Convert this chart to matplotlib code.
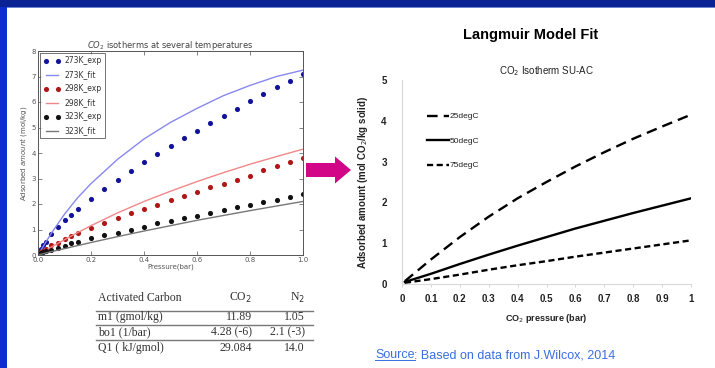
import matplotlib
matplotlib.use("Agg")
import matplotlib.pyplot as plt
from matplotlib.patches import Rectangle, FancyArrow

'''
data read off the picture
'''
# left chart: CO2 isotherms, experiment points
p_exp = [0.005, 0.01, 0.02, 0.03, 0.05, 0.075, 0.1, 0.125, 0.15, 0.2, 0.25, 0.3, 0.35,
         0.4, 0.45, 0.5, 0.55, 0.6, 0.65, 0.7, 0.75, 0.8, 0.85, 0.9, 0.95, 1.0]
q273_exp = [0.12, 0.25, 0.38, 0.5, 0.82, 1.11, 1.37, 1.57, 1.82, 2.2, 2.59, 2.94, 3.3,
            3.63, 3.95, 4.28, 4.57, 4.88, 5.16, 5.45, 5.72, 6.02, 6.3, 6.59, 6.83, 7.1]
q298_exp = [0.05, 0.1, 0.17, 0.24, 0.39, 0.48, 0.61, 0.75, 0.85, 1.07, 1.27, 1.44, 1.63,
            1.8, 1.96, 2.16, 2.32, 2.47, 2.66, 2.78, 2.94, 3.1, 3.33, 3.49, 3.63, 3.79]
q323_exp = [0.03, 0.06, 0.1, 0.14, 0.2, 0.29, 0.37, 0.46, 0.52, 0.65, 0.78, 0.88, 1.0,
            1.11, 1.24, 1.33, 1.46, 1.54, 1.66, 1.76, 1.87, 1.96, 2.06, 2.17, 2.28, 2.39]
# left chart: fitted curves
p_fit = [0.0, 0.05, 0.1, 0.15, 0.2, 0.3, 0.4, 0.5, 0.6, 0.7, 0.8, 0.9, 1.0]
q273_fit = [0.0, 0.85, 1.6, 2.25, 2.8, 3.75, 4.55, 5.2, 5.75, 6.25, 6.65, 7.0, 7.25]
q298_fit = [0.0, 0.31, 0.6, 0.88, 1.15, 1.65, 2.1, 2.5, 2.88, 3.23, 3.56, 3.86, 4.15]
q323_fit = [0.0, 0.13, 0.25, 0.37, 0.49, 0.72, 0.94, 1.15, 1.36, 1.55, 1.74, 1.92, 2.1]

# right chart: Langmuir model fit
p_lm = [0.01, 0.1, 0.2, 0.3, 0.4, 0.5, 0.6, 0.7, 0.8, 0.9, 1.0]
q25 = [0.07, 0.6, 1.15, 1.65, 2.1, 2.5, 2.88, 3.23, 3.56, 3.86, 4.15]
q50 = [0.05, 0.25, 0.49, 0.72, 0.94, 1.15, 1.36, 1.55, 1.74, 1.92, 2.1]
q75 = [0.03, 0.12, 0.23, 0.35, 0.46, 0.56, 0.67, 0.77, 0.87, 0.97, 1.07]

# parameter table
tab_head = ["Activated Carbon", "CO$_2$", "N$_2$"]
tab_rows = [["m1 (gmol/kg)", "11.89", "1.05"],
            ["bo1 (1/bar)", "4.28 (-6)", "2.1 (-3)"],
            ["Q1 ( kJ/gmol)", "29.084", "14.0"]]

W, H = 715, 368
def fx(px):
    return px / W
def fy(py):
    return 1 - py / H

fig = plt.figure(figsize=(7.15, 3.68), dpi=100)
fig.patch.set_facecolor("white")

'''
slide frame
'''
fig.patches.append(Rectangle((0, fy(7)), 1, 7 / H, transform=fig.transFigure,
                             facecolor="#0a2394", edgecolor="none", zorder=0))
fig.patches.append(Rectangle((0, fy(8)), 1, 1 / H, transform=fig.transFigure,
                             facecolor="#6f86d8", edgecolor="none", zorder=0))
fig.patches.append(Rectangle((0, 0), fx(7), fy(7), transform=fig.transFigure,
                             facecolor="#0b2fcf", edgecolor="none", zorder=0))

'''
left chart
'''
gray = "#555555"
ax1 = fig.add_axes([fx(38), fy(255), fx(303) - fx(38), fy(51) - fy(255)])
ax1.plot(p_exp, q273_exp, "o", color="#12129a", ms=3.7, mec="none", label="273K_exp")
ax1.plot(p_fit, q273_fit, "-", color="#8888f0", lw=1.0, label="273K_fit")
ax1.plot(p_exp, q298_exp, "o", color="#b01818", ms=3.7, mec="none", label="298K_exp")
ax1.plot(p_fit, q298_fit, "-", color="#f08888", lw=1.0, label="298K_fit")
ax1.plot(p_exp, q323_exp, "o", color="#111111", ms=3.7, mec="none", label="323K_exp")
ax1.plot(p_fit, q323_fit, "-", color="#777777", lw=1.0, label="323K_fit")
ax1.set_xlim(0, 1)
ax1.set_ylim(0, 8)
ax1.set_xticks([0, 0.2, 0.4, 0.6, 0.8, 1.0])
ax1.set_xticklabels(["0.0", "0.2", "0.4", "0.6", "0.8", "1.0"])
ax1.tick_params(direction="in", length=3, width=0.5, labelsize=5, colors=gray,
                top=True, right=True, pad=1.5)
for s in ax1.spines.values():
    s.set_color(gray)
    s.set_linewidth(0.7)
ax1.set_title("$CO_2$ isotherms at several temperatures", fontsize=6, color="#444444", pad=2)
ax1.set_xlabel("Pressure(bar)", fontsize=5, color=gray, labelpad=0.5)
ax1.set_ylabel("Adsorbed $amount$ (mol/kg)", fontsize=5, color=gray, labelpad=2)
leg1 = ax1.legend(loc="upper left", fontsize=5.5, numpoints=2, handlelength=2.2,
                  labelspacing=0.65, borderpad=0.4, borderaxespad=0.3, fancybox=False,
                  handletextpad=0.6)
leg1.get_frame().set_edgecolor("#333333")
leg1.get_frame().set_linewidth(0.6)
for t in leg1.get_texts():
    t.set_color("#333333")

'''
parameter table
'''
serif = "Liberation Serif"
col_x = [98, 252, 305]
row_y = [298, 317, 332, 348]
rule_y = [311, 325, 340]
fig.text(fx(col_x[0]), fy(row_y[0]), tab_head[0], fontsize=8.5, family=serif,
         color="#333333", va="center", ha="left")
fig.text(fx(col_x[1]), fy(row_y[0]), tab_head[1], fontsize=8.5, family=serif,
         color="#333333", va="center", ha="right")
fig.text(fx(col_x[2]), fy(row_y[0]), tab_head[2], fontsize=8.5, family=serif,
         color="#333333", va="center", ha="right")
for i, row in enumerate(tab_rows):
    fig.text(fx(col_x[0]), fy(row_y[i + 1]), row[0], fontsize=8.5, family=serif,
             color="#333333", va="center", ha="left")
    fig.text(fx(col_x[1]), fy(row_y[i + 1]), row[1], fontsize=8.5, family=serif,
             color="#333333", va="center", ha="right")
    fig.text(fx(col_x[2]), fy(row_y[i + 1]), row[2], fontsize=8.5, family=serif,
             color="#333333", va="center", ha="right")
for ry in rule_y:
    fig.add_artist(plt.Line2D([fx(96), fx(313)], [fy(ry), fy(ry)], color="#777777",
                              lw=1.0, transform=fig.transFigure))

'''
arrow
'''
fig.patches.append(FancyArrow(fx(306), fy(170), fx(351) - fx(306), 0,
                              width=14 / H, head_width=27 / H, head_length=16 / W,
                              length_includes_head=True, transform=fig.transFigure,
                              facecolor="#d10787", edgecolor="none"))

'''
right chart
'''
sans = "Liberation Sans"
fig.text(fx(531), fy(35), "Langmuir Model Fit", fontsize=10.5, fontweight="bold",
         family=sans, ha="center", va="center", color="black")

ax2 = fig.add_axes([fx(402), fy(284), fx(691) - fx(402), fy(80) - fy(284)])
ax2.plot(p_lm, q25, color="black", lw=1.7, dashes=(4.5, 2.6), label="25degC")
ax2.plot(p_lm, q50, color="black", lw=1.7, label="50degC")
ax2.plot(p_lm, q75, color="black", lw=1.7, dashes=(2.6, 1.5), label="75degC")
ax2.set_xlim(0, 1)
ax2.set_ylim(0, 5)
ax2.set_xticks([0, 0.1, 0.2, 0.3, 0.4, 0.5, 0.6, 0.7, 0.8, 0.9, 1.0])
ax2.set_xticklabels(["0", "0.1", "0.2", "0.3", "0.4", "0.5", "0.6", "0.7", "0.8", "0.9", "1"])
ax2.set_yticks([0, 1, 2, 3, 4, 5])
for s in ["top", "right"]:
    ax2.spines[s].set_visible(False)
for s in ["left", "bottom"]:
    ax2.spines[s].set_color("#d9d9d9")
    ax2.spines[s].set_linewidth(0.8)
ax2.tick_params(axis="x", length=2, width=0.6, color="#d0d0d0", pad=5)
ax2.tick_params(axis="y", length=0, pad=11)
for lab in ax2.get_xticklabels() + ax2.get_yticklabels():
    lab.set_fontsize(7)
    lab.set_fontweight("bold")
    lab.set_family(sans)
    lab.set_color("#222222")
ax2.set_title("CO$_2$ Isotherm SU-AC", fontsize=7, family=sans, color="#222222", pad=4)
ax2.set_xlabel("CO$_2$ pressure (bar)", fontsize=6.5, fontweight="bold", family=sans,
               color="#222222", labelpad=6)
ax2.set_ylabel("Adsorbed amount (mol CO$_2$/kg solid)", fontsize=7, fontweight="bold",
               family=sans, color="#222222", labelpad=8)
leg2 = ax2.legend(loc="upper left", bbox_to_anchor=(0.087, 0.84), frameon=False,
                  fontsize=6, handlelength=2.6, handletextpad=0.1, labelspacing=2.0,
                  borderpad=0, borderaxespad=0)
for t in leg2.get_texts():
    t.set_family(sans)
    t.set_color("#222222")

'''
source note
'''
src = fig.text(fx(375), fy(355), "Source", fontsize=9, family=sans, color="#3a6ee0",
               va="center", ha="left")
fig.canvas.draw()
bb = src.get_window_extent()
fig.add_artist(plt.Line2D([bb.x0 / fig.bbox.width, bb.x1 / fig.bbox.width],
                          [fy(360)] * 2, color="#3a6ee0", lw=0.7,
                          transform=fig.transFigure))
fig.text(bb.x1 / fig.bbox.width, fy(355), ": Based on data from J.Wilcox, 2014",
         fontsize=9, family=sans, color="#3a6ee0", va="center", ha="left")

fig.savefig("out.png", dpi=100)
